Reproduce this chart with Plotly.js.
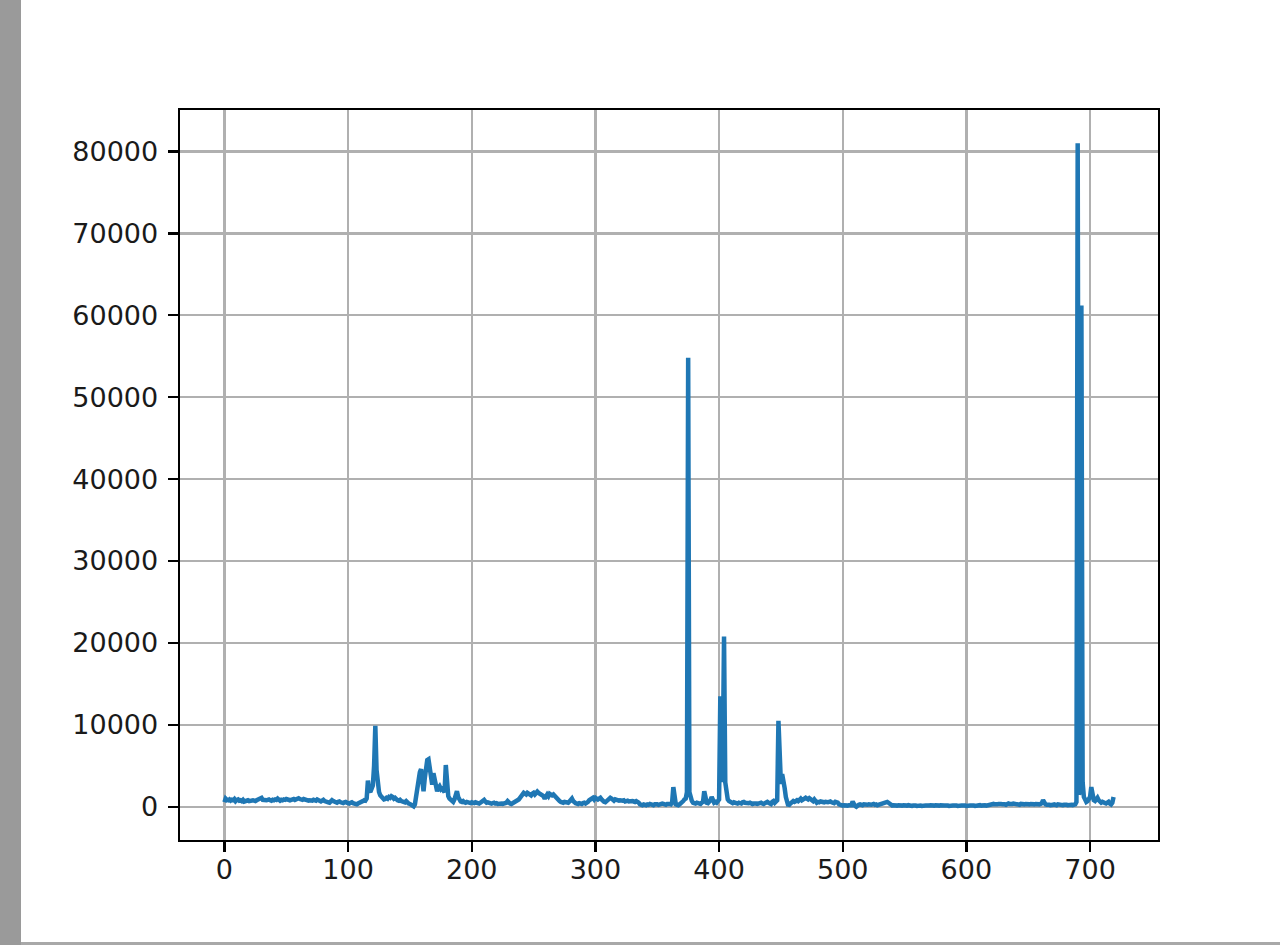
<!DOCTYPE html>
<html>
<head>
<meta charset="utf-8">
<script src="https://cdn.plot.ly/plotly-3.0.1.min.js"></script>
<style>
  html, body { margin: 0; padding: 0; background: #ffffff; }
  #chart { width: 1280px; height: 945px; }
</style>
</head>
<body>
<div id="chart"></div>
<script>
// Series values (index 0..719)
const values = [
  550, 1000, 850, 800, 900, 750, 850, 800, 950, 700,
  850, 900, 750, 800, 700, 850, 650, 700, 750, 800,
  700, 750, 850, 800, 750, 700, 800, 850, 900, 950,
  1100, 850, 800, 750, 800, 850, 900, 800, 750, 850,
  800, 900, 850, 1000, 800, 750, 850, 800, 900, 850,
  950, 850, 900, 800, 850, 900, 950, 850, 900, 1000,
  1050, 950, 900, 850, 950, 900, 800, 850, 750, 800,
  700, 750, 850, 800, 750, 900, 800, 700, 650, 750,
  850, 700, 600, 650, 550, 500, 650, 800, 700, 600,
  550, 500, 600, 650, 550, 500, 450, 550, 600, 500,
  450, 400, 500, 550, 450, 400, 350, 300, 400, 450,
  500, 650, 700, 800, 750, 1000, 3200, 2000, 1800, 2200,
  2600, 5000, 9900, 4500, 2600, 1800, 1400, 1200, 1000, 900,
  950, 1100, 1000, 1200, 1100, 1300, 1200, 1000, 1100, 900,
  800, 750, 850, 700, 650, 600, 550, 700, 500, 400,
  350, 250, 150, 50, 300, 1200, 2800, 3800, 4200, 4600,
  3000, 1900, 3500, 5500, 5700, 5800, 4500, 3000, 2700, 4100,
  3200, 2100, 1900, 2300, 2500, 2200, 2400, 2000, 1800, 5100,
  2600, 1300, 1000, 800, 700, 600, 900, 1300, 1900, 1200,
  800, 650, 600, 700, 550, 500, 600, 550, 500, 450,
  550, 500, 450, 550, 500, 450, 400, 500, 600, 700,
  850, 650, 500, 550, 450, 500, 400, 450, 500, 400,
  450, 350, 400, 450, 400, 350, 400, 450, 500, 700,
  450, 400, 350, 450, 500, 550, 600, 700, 900, 1100,
  1300, 1500, 1700, 1600, 1500, 1700, 1600, 1500, 1400, 1600,
  1700, 1500, 1600, 1850, 1700, 1600, 1500, 1400, 1300, 1000,
  1400, 1500, 1300, 1600, 1500, 1400, 1500, 1300, 1100, 900,
  800, 700, 600, 550, 500, 600, 550, 450, 500, 650,
  850, 1000, 700, 500, 450, 400, 350, 450, 400, 350,
  450, 500, 400, 450, 600, 800, 900, 1000, 1100, 900,
  1100, 1000, 900, 1000, 1100, 900, 700, 600, 550, 700,
  900, 1000, 1100, 1000, 800, 750, 900, 850, 700, 750,
  800, 700, 750, 800, 650, 700, 750, 650, 700, 750,
  700, 650, 600, 700, 650, 500, 300, 250, 200, 300,
  250, 200, 300, 250, 350, 300, 250, 200, 300, 350,
  300, 250, 350, 300, 400, 350, 300, 250, 350, 400,
  350, 300, 500, 2400, 600, 300, 250, 200, 300, 400,
  500, 700, 900, 1000, 1800, 54800, 1800, 900, 700, 500,
  450, 400, 500, 450, 400, 350, 500, 600, 1900, 700,
  500, 450, 600, 800, 1200, 700, 500, 600, 500, 700,
  900, 13500, 3000, 6000, 20800, 3000, 1500, 900, 700, 600,
  500, 450, 550, 500, 450, 400, 500, 450, 400, 550,
  600, 500, 450, 400, 450, 500, 400, 350, 400, 450,
  400, 350, 400, 450, 500, 400, 350, 450, 500, 600,
  500, 400, 350, 600, 700, 500, 650, 800, 10500, 4000,
  2800, 4000, 2500, 2300, 1200, 400, 100, 300, 500, 600,
  700, 600, 750, 800, 700, 900, 1000, 800, 900, 1000,
  1100, 1000, 900, 1050, 950, 800, 700, 900, 600, 500,
  600, 550, 650, 600, 500, 550, 600, 500, 550, 600,
  650, 550, 500, 450, 600, 550, 500, 300, 200, 150,
  150, 200, 150, 100, 150, 200, 150, 200, 650, 300,
  100, 0, 200, 250, 300, 250, 200, 300, 250, 300,
  250, 300, 200, 250, 300, 350, 250, 300, 200, 250,
  300, 250, 350, 400, 450, 550, 600, 500, 350, 200,
  150, 200, 150, 100, 150, 200, 150, 100, 150, 200,
  150, 100, 150, 200, 150, 150, 100, 150, 200, 150,
  100, 150, 200, 150, 100, 150, 200, 150, 150, 100,
  150, 200, 150, 100, 150, 200, 150, 100, 150, 200,
  150, 100, 150, 150, 200, 150, 100, 150, 200, 150,
  150, 200, 150, 100, 150, 200, 150, 150, 200, 150,
  100, 150, 200, 150, 150, 200, 150, 100, 150, 200,
  150, 200, 150, 200, 250, 200, 150, 200, 250, 300,
  250, 300, 350, 300, 250, 300, 350, 400, 350, 300,
  350, 300, 250, 350, 400, 350, 300, 350, 400, 350,
  300, 350, 300, 250, 350, 300, 250, 300, 350, 300,
  250, 300, 350, 300, 250, 300, 350, 300, 250, 300,
  350, 450, 800, 400, 300, 250, 300, 250, 200, 300,
  250, 300, 250, 200, 300, 250, 300, 250, 200, 250,
  300, 250, 200, 250, 300, 250, 200, 250, 300, 600,
  81000, 1500, 2000, 61200, 3000, 1200, 800, 600, 700, 900,
  1200, 2400, 1500, 800, 700, 900, 1100, 800, 600, 500,
  600, 500, 450, 400, 500, 600, 400, 300, 500, 1200
];

// Tick values / labels
const xTicks = [0, 100, 200, 300, 400, 500, 600, 700];
const xTickLabels = ['0', '100', '200', '300', '400', '500', '600', '700'];
const yTicks = [0, 10000, 20000, 30000, 40000, 50000, 60000, 70000, 80000];
const yTickLabels = ['0', '10000', '20000', '30000', '40000', '50000', '60000', '70000', '80000'];

const trace = {
  y: values,
  type: 'scatter',
  mode: 'lines',
  line: { color: '#1f77b4', width: 4.5 },
  hoverinfo: 'x+y'
};

const fontFam = 'DejaVu Sans, sans-serif';

const layout = {
  width: 1280,
  height: 945,
  margin: { l: 180, r: 122, t: 110, b: 105, pad: 0 },
  paper_bgcolor: '#ffffff',
  plot_bgcolor: '#ffffff',
  showlegend: false,
  font: { family: fontFam, size: 27, color: '#000000' },
  xaxis: {
    range: [-35.95, 754.95],
    tickmode: 'array',
    tickvals: xTicks,
    ticktext: xTickLabels,
    showgrid: true,
    gridcolor: '#b0b0b0',
    gridwidth: 2.4,
    zeroline: false,
    showline: true,
    linecolor: '#000000',
    linewidth: 2.4,
    mirror: true,
    ticks: 'outside',
    ticklen: 10,
    tickwidth: 2.4,
    tickcolor: '#000000',
    ticklabelstandoff: -6,
    tickfont: { family: fontFam, size: 27, color: '#1a1a1a' }
  },
  yaxis: {
    range: [-4050, 85050],
    tickmode: 'array',
    tickvals: yTicks,
    ticktext: yTickLabels,
    showgrid: true,
    gridcolor: '#b0b0b0',
    gridwidth: 2.4,
    zeroline: false,
    showline: true,
    linecolor: '#000000',
    linewidth: 2.4,
    mirror: true,
    ticks: 'outside',
    ticklen: 10,
    tickwidth: 2.4,
    tickcolor: '#000000',
    ticklabelstandoff: 4,
    tickfont: { family: fontFam, size: 27, color: '#1a1a1a' }
  },
  shapes: [
    // gray strip along the left edge of the picture
    { type: 'rect', xref: 'paper', yref: 'paper', layer: 'above',
      x0: -180 / 978, x1: (21 - 180) / 978,
      y0: (840 - 945) / 730, y1: 840 / 730,
      fillcolor: '#9a9a9a', line: { width: 0 } },
    // thin gray line along the bottom edge
    { type: 'rect', xref: 'paper', yref: 'paper', layer: 'above',
      x0: (21 - 180) / 978, x1: 1100 / 978,
      y0: (840 - 945) / 730, y1: (840 - 942) / 730,
      fillcolor: '#a8a8a8', line: { width: 0 } }
  ]
};

Plotly.newPlot('chart', [trace], layout, { displayModeBar: false, staticPlot: true });
</script>
</body>
</html>
